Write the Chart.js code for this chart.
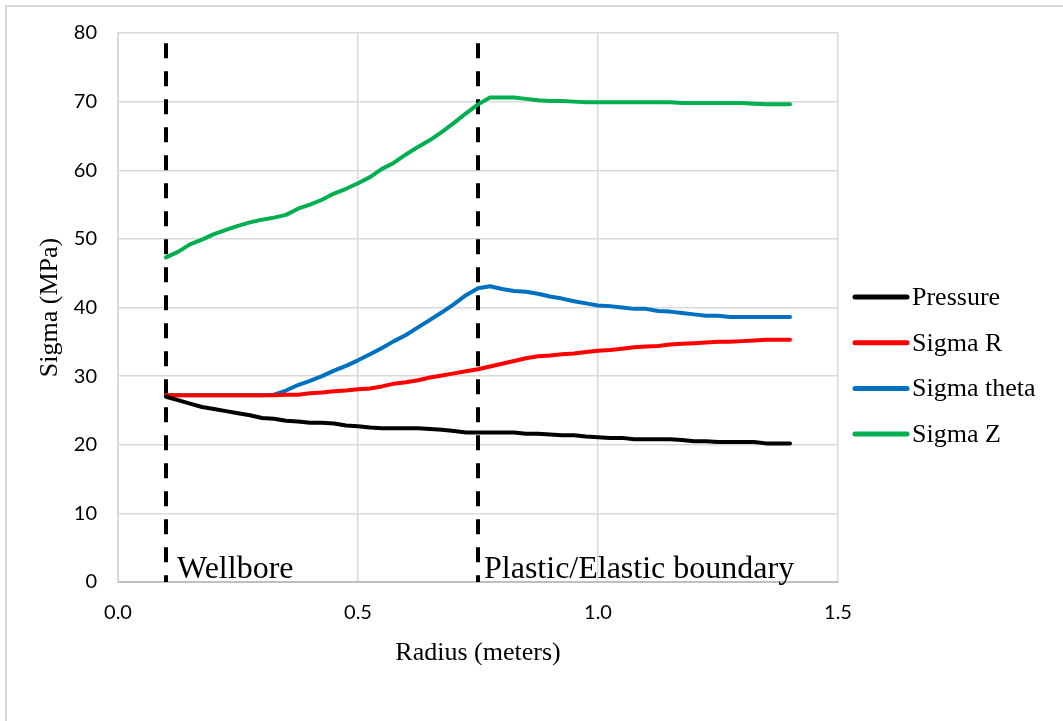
<!DOCTYPE html>
<html>
<head>
<meta charset="utf-8">
<script src="https://cdn.jsdelivr.net/npm/chart.js@4/dist/chart.umd.min.js"></script>
<style>
    html, body { margin: 0; padding: 0; background: #fff; }
    #wrap { position: relative; width: 1063px; height: 721px; overflow: hidden; }
    #frame { position: absolute; left: 5px; top: 5px; width: 1100px; height: 800px;
             border-left: 2px solid #d9d9d9; border-top: 2px solid #d9d9d9; }
    #chart { position: absolute; left: 0; top: 0; }
</style>
</head>
<body>
<div id="wrap">
    <div id="frame"></div>
    <canvas id="chart" width="1063" height="721"></canvas>
</div>
<script>
var radius = [0.1, 0.125, 0.15, 0.175, 0.2, 0.225, 0.25, 0.275, 0.3, 0.325,
    0.35, 0.375, 0.4, 0.425, 0.45, 0.475, 0.5, 0.525, 0.55, 0.575,
    0.6, 0.625, 0.65, 0.675, 0.7, 0.725, 0.75, 0.775, 0.8, 0.825,
    0.85, 0.875, 0.9, 0.925, 0.95, 0.975, 1.0, 1.025, 1.05, 1.075,
    1.1, 1.125, 1.15, 1.175, 1.2, 1.225, 1.25, 1.275, 1.3, 1.325,
    1.35, 1.375, 1.4];

var pressure = [27.0, 26.5, 26.0, 25.5, 25.2, 24.9, 24.6, 24.3, 23.9, 23.8,
    23.5, 23.4, 23.2, 23.2, 23.1, 22.8, 22.7, 22.5, 22.4, 22.4,
    22.4, 22.4, 22.3, 22.2, 22.0, 21.8, 21.8, 21.8, 21.8, 21.8,
    21.6, 21.6, 21.5, 21.4, 21.4, 21.2, 21.1, 21.0, 21.0, 20.8,
    20.8, 20.8, 20.8, 20.7, 20.5, 20.5, 20.4, 20.4, 20.4, 20.4,
    20.2, 20.2, 20.2];

var sigmaR = [27.2, 27.2, 27.2, 27.2, 27.2, 27.2, 27.2, 27.2, 27.2, 27.2,
    27.3, 27.3, 27.5, 27.6, 27.8, 27.9, 28.1, 28.2, 28.5, 28.9,
    29.1, 29.4, 29.8, 30.1, 30.4, 30.7, 31.0, 31.4, 31.8, 32.2,
    32.6, 32.9, 33.0, 33.2, 33.3, 33.5, 33.7, 33.8, 34.0, 34.2,
    34.3, 34.4, 34.6, 34.7, 34.8, 34.9, 35.0, 35.0, 35.1, 35.2,
    35.3, 35.3, 35.3];

var sigmaTheta = [27.2, 27.2, 27.2, 27.2, 27.2, 27.2, 27.2, 27.2, 27.2, 27.3,
    27.9, 28.7, 29.3, 30.0, 30.8, 31.5, 32.3, 33.2, 34.1, 35.1,
    36.0, 37.1, 38.2, 39.3, 40.5, 41.8, 42.8, 43.1, 42.7, 42.4,
    42.3, 42.0, 41.6, 41.3, 40.9, 40.6, 40.3, 40.2, 40.0, 39.8,
    39.8, 39.5, 39.4, 39.2, 39.0, 38.8, 38.8, 38.6, 38.6, 38.6,
    38.6, 38.6, 38.6];

var sigmaZ = [47.3, 48.1, 49.2, 49.9, 50.7, 51.3, 51.9, 52.4, 52.8, 53.1,
    53.5, 54.4, 55.0, 55.7, 56.6, 57.3, 58.1, 59.0, 60.2, 61.1,
    62.3, 63.4, 64.4, 65.6, 66.9, 68.3, 69.6, 70.6, 70.6, 70.6,
    70.4, 70.2, 70.1, 70.1, 70.0, 69.9, 69.9, 69.9, 69.9, 69.9,
    69.9, 69.9, 69.9, 69.8, 69.8, 69.8, 69.8, 69.8, 69.8, 69.7,
    69.6, 69.6, 69.6];

var seriesNames = ['Pressure', 'Sigma R', 'Sigma theta', 'Sigma Z'];
var seriesColors = ['#000000', '#ff0000', '#0070c0', '#00b050'];

// boundary markers: wellbore wall and plastic/elastic radius
var boundaryRadius = [0.1, 0.75];
var boundaryLabels = ['Wellbore', 'Plastic/Elastic boundary'];
var boundaryTop = 78.5;

var serif = '"Liberation Serif", "Times New Roman", serif';

function toPoints(ys) {
    return radius.map(function (r, i) { return { x: r, y: ys[i] }; });
}

var datasets = [pressure, sigmaR, sigmaTheta, sigmaZ].map(function (ys, i) {
    return {
        label: seriesNames[i],
        data: toPoints(ys),
        borderColor: seriesColors[i],
        backgroundColor: seriesColors[i],
        borderWidth: 4,
        pointRadius: 0,
        tension: 0,
        borderJoinStyle: 'round',
        borderCapStyle: 'round'
    };
});

boundaryRadius.forEach(function (r) {
    datasets.push({
        label: '',
        data: [{ x: r, y: boundaryTop }, { x: r, y: 0 }],
        borderColor: '#000000',
        borderWidth: 4,
        borderDash: [15, 13],
        pointRadius: 0,
        clip: false
    });
});

// boundary captions and the right-hand legend
var annotations = {
    id: 'annotations',
    afterDraw: function (chart) {
        var ctx = chart.ctx;
        var xs = chart.scales.x, ys = chart.scales.y;
        var captionGap = [11, 6];
        ctx.save();
        ctx.fillStyle = '#000';
        ctx.font = '32px ' + serif;
        ctx.textBaseline = 'alphabetic';
        ctx.textAlign = 'left';
        boundaryLabels.forEach(function (t, i) {
            ctx.fillText(t, xs.getPixelForValue(boundaryRadius[i]) + captionGap[i], ys.getPixelForValue(0) - 4);
        });

        var lx = chart.chartArea.right + 17;
        var ly = 297;
        ctx.font = '26px ' + serif;
        ctx.textBaseline = 'middle';
        ctx.lineCap = 'round';
        ctx.lineWidth = 5;
        seriesNames.forEach(function (name, i) {
            var y = ly + i * 45.7;
            ctx.strokeStyle = seriesColors[i];
            ctx.beginPath();
            ctx.moveTo(lx, y);
            ctx.lineTo(lx + 52, y);
            ctx.stroke();
            ctx.fillText(name, lx + 57, y + 1);
        });
        ctx.restore();
    }
};

var ctx = document.getElementById('chart').getContext('2d');
new Chart(ctx, {
    type: 'line',
    data: { datasets: datasets },
    plugins: [annotations],
    options: {
        responsive: false,
        animation: false,
        layout: { padding: { top: 32, right: 225, left: 0, bottom: 0 } },
        plugins: {
            legend: { display: false },
            tooltip: { enabled: false }
        },
        scales: {
            x: {
                type: 'linear',
                min: 0,
                max: 1.5,
                afterFit: function (scale) { scale.height = 139; },
                ticks: {
                    stepSize: 0.5,
                    padding: 19,
                    color: '#000',
                    font: { family: 'Lato', size: 20 },
                    callback: function (v) { return v.toFixed(1); }
                },
                grid: { color: '#d9d9d9', lineWidth: 1.5, drawTicks: false },
                border: { color: '#bfbfbf', width: 2 },
                title: {
                    display: true,
                    text: 'Radius (meters)',
                    color: '#000',
                    font: { family: serif, size: 26 },
                    padding: { top: 0, bottom: 52 }
                }
            },
            y: {
                min: 0,
                max: 80,
                afterFit: function (scale) { scale.width = 118; },
                ticks: {
                    stepSize: 10,
                    padding: 21,
                    color: '#000',
                    font: { family: 'Lato', size: 20 }
                },
                grid: { color: '#d9d9d9', lineWidth: 1.5, drawTicks: false },
                border: { color: '#d9d9d9', width: 2 },
                title: {
                    display: true,
                    text: 'Sigma (MPa)',
                    color: '#000',
                    font: { family: serif, size: 26 },
                    padding: { top: 35, bottom: 0 }
                }
            }
        }
    }
});
</script>
</body>
</html>
